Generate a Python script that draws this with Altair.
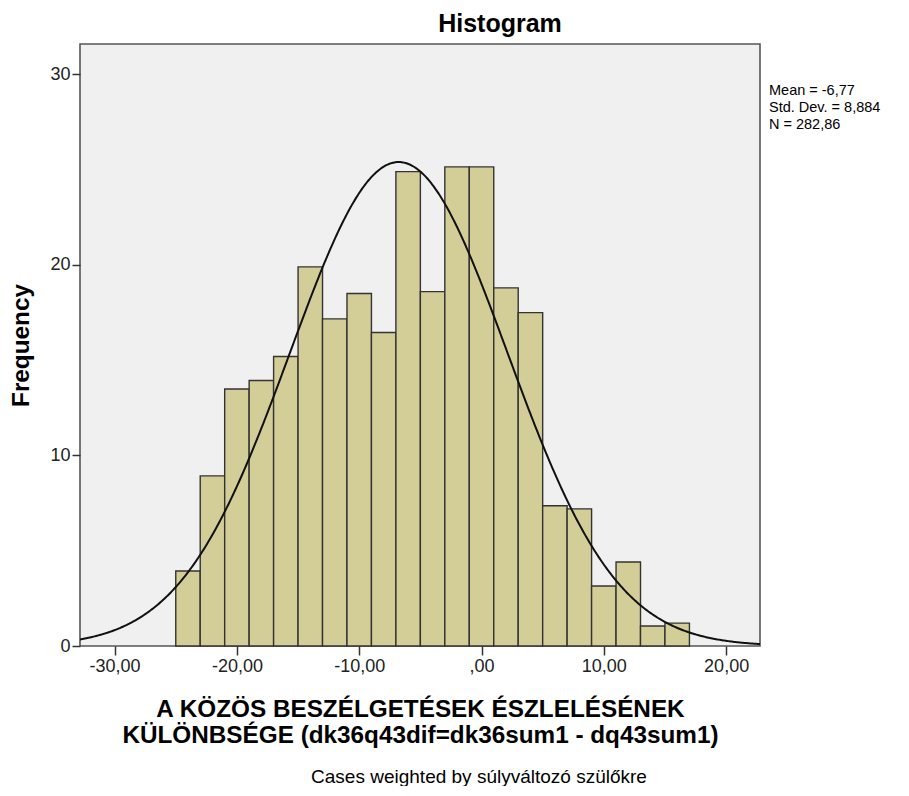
import altair as alt
import pandas as pd

# ---- data ----
bin_starts = [-25, -23, -21, -19, -17, -15, -13, -11, -9, -7, -5, -3, -1, 1, 3, 5, 7, 9, 11, 13, 15]
bin_width = 2
frequencies = [3.94, 8.93, 13.49, 13.94, 15.2, 19.9, 17.17, 18.5, 16.46, 24.9, 18.6,
               25.15, 25.15, 18.8, 17.5, 7.36, 7.2, 3.15, 4.41, 1.05, 1.2]

mean_val = -6.77
sd_val = 8.884
n_val = 282.86
stats_lines = ["Mean = -6,77", "Std. Dev. = 8,884", "N = 282,86"]

x_tick_values = [-30, -20, -10, 0, 10, 20]
x_tick_labels = ["-30,00", "-20,00", "-10,00", ",00", "10,00", "20,00"]
y_tick_values = [0, 10, 20, 30]

x_domain = [-32.83, 22.77]
y_domain = [0, 31.6]

title_text = "Histogram"
x_title = ["A KÖZÖS BESZÉLGETÉSEK ÉSZLELÉSÉNEK", "KÜLÖNBSÉGE (dk36q43dif=dk36sum1 - dq43sum1)"]
y_title = "Frequency"
footer_text = "Cases weighted by súlyváltozó szülőkre"

FONT = "Liberation Sans"

# ---- build tables ----
bars_df = pd.DataFrame({
    "start": bin_starts,
    "end": [s + bin_width for s in bin_starts],
    "freq": frequencies,
})

label_expr = "''"
for v, lab in zip(reversed(x_tick_values), reversed(x_tick_labels)):
    label_expr = f"datum.value == {v} ? '{lab}' : ({label_expr})"

x_scale = alt.Scale(domain=x_domain, nice=False, zero=False)
y_scale = alt.Scale(domain=y_domain, nice=False)

x_axis = alt.Axis(
    values=x_tick_values, labelExpr=label_expr, grid=False, domain=False,
    tickSize=9, tickColor="#333", tickWidth=1.5,
    labelFontSize=18, labelFont=FONT, labelColor="#222", labelPadding=2,
    title=x_title, titleFont=FONT, titleFontSize=24.3, titleFontWeight="bold",
    titleColor="#000", titleX=340, titleY=70, titleAlign="center",
    titleBaseline="alphabetic", titleLineHeight=26, titleAnchor="middle",
)
y_axis = alt.Axis(
    values=y_tick_values, grid=False, domain=False,
    tickSize=8, tickColor="#333", tickWidth=1.5,
    labelFontSize=18, labelFont=FONT, labelColor="#222", labelPadding=2,
    title=y_title, titleFont=FONT, titleFontSize=24.3, titleFontWeight="bold",
    titleColor="#000", titleX=-59, titleY=301, titleAngle=-90,
    titleAlign="center", titleBaseline="middle", titleAnchor="middle",
)

bars = alt.Chart(bars_df).mark_rect(
    fill="#d3ce97", stroke="#333333", strokeWidth=1.4
).encode(
    x=alt.X("start:Q", scale=x_scale, axis=x_axis),
    x2="end:Q",
    y=alt.Y("freq:Q", scale=y_scale, axis=y_axis),
    y2=alt.datum(0),
)

curve = alt.Chart(alt.sequence(x_domain[0], x_domain[1] + 0.05, 0.1, as_="x")).transform_calculate(
    y=f"{n_val} * {bin_width} * densityNormal(datum.x, {mean_val}, {sd_val})"
).mark_line(color="#111111", strokeWidth=2, clip=True).encode(
    x=alt.X("x:Q", scale=x_scale),
    y=alt.Y("y:Q", scale=y_scale),
)

title_mark = alt.Chart(pd.DataFrame({"t": [title_text]})).mark_text(
    font=FONT, fontSize=25, fontWeight="bold", color="#000", align="center", baseline="alphabetic"
).encode(text="t:N", x=alt.value(420), y=alt.value(-12))

stats_mark = alt.Chart(pd.DataFrame({"t": ["\n".join(stats_lines)]})).mark_text(
    font=FONT, fontSize=14.5, color="#000", align="left", baseline="alphabetic",
    lineBreak="\n", lineHeight=17
).encode(text="t:N", x=alt.value(689), y=alt.value(51))

footer_mark = alt.Chart(pd.DataFrame({"t": [footer_text]})).mark_text(
    font=FONT, fontSize=19, color="#000", align="center", baseline="alphabetic"
).encode(text="t:N", x=alt.value(399), y=alt.value(739))

chart = alt.layer(bars, curve, title_mark, stats_mark, footer_mark).properties(
    width=680, height=602,
    padding={"left": 72, "top": 36, "right": 135, "bottom": 140},
    autosize="none",
    background="white",
).configure_view(
    fill="#f0f0f0", stroke="#555555", strokeWidth=1.6
)

chart.save("out.html", embed_options={"renderer": "svg", "actions": False})
